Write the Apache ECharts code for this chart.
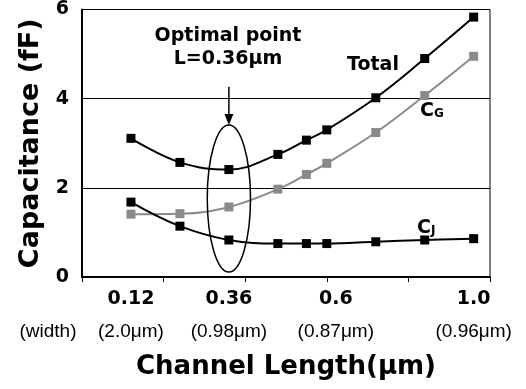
<!DOCTYPE html>
<html>
<head>
<meta charset="utf-8">
<script src="https://cdn.jsdelivr.net/npm/echarts@6/dist/echarts.min.js"></script>
<style>
  html, body { margin: 0; padding: 0; background: #fff; }
  #chart { width: 526px; height: 389px; }
</style>
</head>
<body>
<div id="chart"></div>
<script>
// channel length (um) and capacitances (fF)
const lengths = [0.12, 0.24, 0.36, 0.48, 0.55, 0.6, 0.72, 0.84, 0.96]
const totalCap = [3.11, 2.57, 2.41, 2.75, 3.07, 3.30, 4.02, 4.90, 5.83]
const gateCap = [1.41, 1.42, 1.57, 1.97, 2.30, 2.55, 3.24, 4.07, 4.95]
const junctionCap = [1.68, 1.14, 0.83, 0.75, 0.75, 0.75, 0.79, 0.83, 0.86]

// x tick labels with the device width under each one
const tickValues = [0.12, 0.36, 0.6, 0.96]
const tickLabels = ['0.12', '0.36', '0.6', '1.0']
const widthLabels = ['(2.0μm)', '(0.98μm)', '(0.87μm)', '(0.96μm)']

const optimalL = 0.36

const BOLD = 'DejaVu Sans'
const PLAIN = 'Liberation Sans'

const chart = echarts.init(document.getElementById('chart'))

const pairs = arr => lengths.map((x, i) => [x, arr[i]])

const lineSeries = (name, data, color) => ({
  name: name,
  type: 'line',
  data: pairs(data),
  smooth: 0.4,
  symbol: 'rect',
  symbolSize: 9,
  itemStyle: { color: color },
  lineStyle: { color: color, width: 2 },
  animation: false,
  z: name === 'Total' ? 4 : 3
})

chart.setOption({
  animation: false,
  grid: {
    left: 82, right: 36, top: 8, bottom: 112,
    show: true, borderColor: '#000', borderWidth: 1
  },
  xAxis: [
    {
      type: 'value',
      min: 0, max: 1, interval: 0.2,
      name: 'Channel Length(μm)',
      nameLocation: 'middle',
      nameGap: 77,
      nameTextStyle: { fontFamily: BOLD, fontWeight: 'bold', fontSize: 26, color: '#000' },
      axisLine: { lineStyle: { color: '#000', width: 2 } },
      axisTick: { show: true, length: 5, lineStyle: { color: '#000', width: 1 } },
      axisLabel: { show: false },
      splitLine: { show: false }
    },
    {
      type: 'value',
      position: 'bottom',
      min: 0, max: 1, interval: 0.12,
      axisLine: { show: false },
      axisTick: { show: false },
      splitLine: { show: false },
      axisLabel: {
        margin: 10,
        showMaxLabel: false,
        formatter: val => {
          const i = tickValues.findIndex(t => Math.abs(t - val) < 1e-6)
          if (i < 0) return ''
          const s = i === 2 ? '2' : ''
          return '{v' + s + '|' + tickLabels[i] + '}\n{w' + s + '|' + widthLabels[i] + '}'
        },
        rich: {
          v: { fontFamily: BOLD, fontWeight: 'bold', fontSize: 19, color: '#000', lineHeight: 24 },
          w: { fontFamily: PLAIN, fontSize: 19, color: '#000', lineHeight: 42 },
          v2: { fontFamily: BOLD, fontWeight: 'bold', fontSize: 19, color: '#000', lineHeight: 24, padding: [0, 0, 0, 18] },
          w2: { fontFamily: PLAIN, fontSize: 19, color: '#000', lineHeight: 42, padding: [0, 0, 0, 18] }
        }
      }
    }
  ],
  yAxis: {
    type: 'value',
    min: 0, max: 6, interval: 2,
    name: 'Capacitance (fF)',
    nameLocation: 'middle',
    nameGap: 38,
    nameTextStyle: { fontFamily: BOLD, fontWeight: 'bold', fontSize: 27, color: '#000' },
    axisLine: { show: true, lineStyle: { color: '#000', width: 2 } },
    axisTick: { show: false },
    axisLabel: { margin: 13, fontFamily: BOLD, fontWeight: 'bold', fontSize: 19, color: '#000' },
    splitLine: { show: true, lineStyle: { color: '#000', width: 1 } }
  },
  series: [
    lineSeries('CG', gateCap, '#8a8a8a'),
    lineSeries('CJ', junctionCap, '#000'),
    lineSeries('Total', totalCap, '#000')
  ]
})

// annotations placed through the axes
const px = (x, y) => chart.convertToPixel({ gridIndex: 0 }, [x, y])
const ovalTop = px(optimalL, 3.41)
const ovalBottom = px(optimalL, 0.11)
const ovalSide = px(optimalL + 0.053, 0)
const arrowStart = px(optimalL, 4.27)
const tip = ovalTop

const boldText = (x, y, text, size) => ({
  type: 'text', x: x, y: y,
  style: { text: text, fontFamily: BOLD, fontWeight: 'bold', fontSize: size, fill: '#000', textAlign: 'center', textVerticalAlign: 'middle' }
})

const subText = (x, y, main, sub) => ({
  type: 'text', x: x, y: y,
  style: {
    text: '{c|' + main + '}{s|' + sub + '}',
    rich: {
      c: { fontFamily: BOLD, fontWeight: 'bold', fontSize: 19, fill: '#000' },
      s: { fontFamily: BOLD, fontWeight: 'bold', fontSize: 12, fill: '#000', padding: [6, 0, 0, 0] }
    },
    textVerticalAlign: 'middle'
  },
  z: 10
})

chart.setOption({
  graphic: [
    {
      type: 'ellipse',
      shape: {
        cx: ovalTop[0], cy: (ovalTop[1] + ovalBottom[1]) / 2,
        rx: ovalSide[0] - ovalTop[0], ry: (ovalBottom[1] - ovalTop[1]) / 2
      },
      style: { fill: 'none', stroke: '#000', lineWidth: 1.5 },
      z: 10
    },
    {
      type: 'line',
      shape: { x1: arrowStart[0], y1: arrowStart[1], x2: tip[0], y2: tip[1] - 8 },
      style: { stroke: '#000', lineWidth: 1.5 },
      z: 10
    },
    {
      type: 'polygon',
      shape: { points: [[tip[0] - 4.5, tip[1] - 11], [tip[0] + 4.5, tip[1] - 11], [tip[0], tip[1]]] },
      style: { fill: '#000' },
      z: 10
    },
    boldText(228, 36, 'Optimal point', 19),
    boldText(228, 59, 'L=0.36μm', 19),
    boldText(373, 65, 'Total', 19),
    subText(420, 111, 'C', 'G'),
    subText(417, 228, 'C', 'J'),
    {
      type: 'text', x: 48, y: 332,
      style: { text: '(width)', fontFamily: PLAIN, fontSize: 19, fill: '#000', textAlign: 'center', textVerticalAlign: 'middle' }
    }
  ]
})

window.addEventListener('resize', () => chart.resize())
</script>
</body>
</html>
